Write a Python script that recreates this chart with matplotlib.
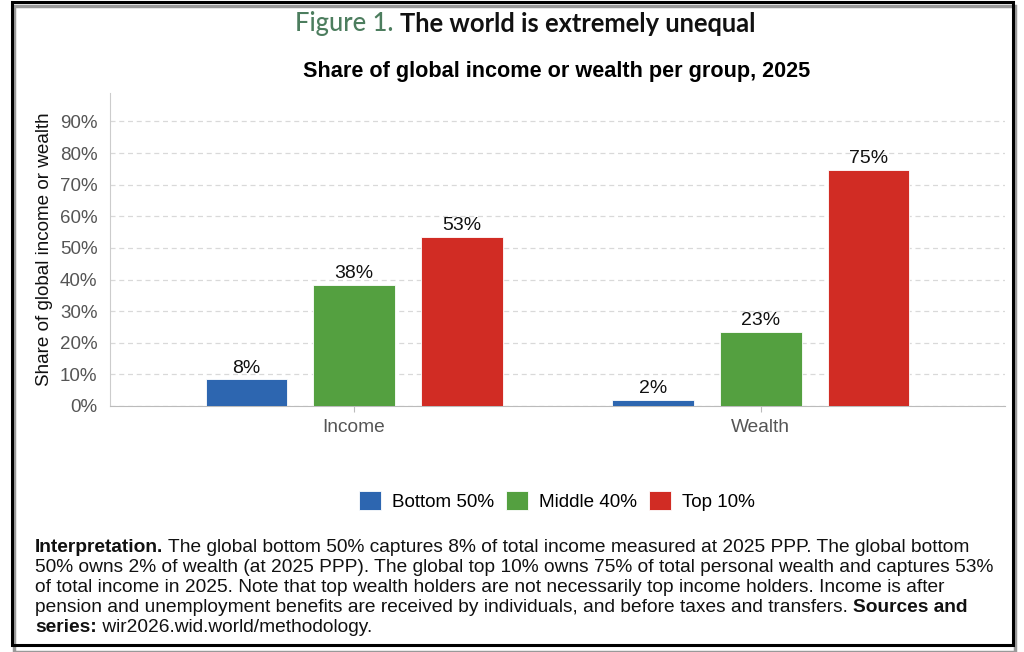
import numpy as np
import matplotlib
matplotlib.use("Agg")
import matplotlib.pyplot as plt
from matplotlib.patches import Rectangle

plt.rcParams['font.family'] = ['Liberation Sans', 'DejaVu Sans']

# data
groups = ["Income", "Wealth"]
series_names = ["Bottom 50%", "Middle 40%", "Top 10%"]
bottom50 = [8.4, 1.9]
middle40 = [38.3, 23.4]
top10 = [53.4, 74.7]
colors = ["#2D66B0", "#54A040", "#D12C24"]
yticks = [0, 10, 20, 30, 40, 50, 60, 70, 80, 90]

# note: list of (text, bold) segments per line
note_lines = [
    [("Interpretation.", True), (" The global bottom 50% captures 8% of total income measured at 2025 PPP. The global bottom", False)],
    [("50% owns 2% of wealth (at 2025 PPP). The global top 10% owns 75% of total personal wealth and captures 53%", False)],
    [("of total income in 2025. Note that top wealth holders are not necessarily top income holders. Income is after", False)],
    [("pension and unemployment benefits are received by individuals, and before taxes and transfers. ", False), ("Sources and", True)],
    [("series:", True), (" wir2026.wid.world/methodology.", False)],
]

W, H = 1024, 652
fig = plt.figure(figsize=(W / 100, H / 100), dpi=100)
ax = fig.add_axes([110 / W, 1 - 406 / H, (1005 - 110) / W, (406 - 93) / H])

x = np.arange(len(groups))
width = 0.2
offset = 0.265
for i, (vals, name, c) in enumerate(zip([bottom50, middle40, top10], series_names, colors)):
    bars = ax.bar(x + (i - 1) * offset, vals, width, color=c, label=name,
                  edgecolor="white", linewidth=0.6, zorder=3)
    ax.bar_label(bars, labels=[f"{v:.0f}%" for v in vals], padding=2,
                 fontsize=14, color="#111111")

ax.set_xlim(-0.6, 1.6)
ax.set_ylim(0, 99)
ax.set_yticks(yticks)
ax.set_yticklabels([f"{t}%" for t in yticks])
ax.set_xticks(x)
ax.set_xticklabels(groups)
ax.tick_params(axis="y", length=0, labelsize=13.5, labelcolor="#555555", pad=9)
ax.tick_params(axis="x", length=4, color="#bbbbbb", labelsize=13.8, labelcolor="#555555", pad=5)
ax.grid(axis="y", color="#d9d9d9", linestyle=(0, (4, 3)), linewidth=0.9, zorder=0)
for s in ["top", "right"]:
    ax.spines[s].set_visible(False)
ax.spines["left"].set_color("#cccccc")
ax.spines["bottom"].set_color("#bbbbbb")
ax.set_ylabel("Share of global income or wealth", fontsize=13.6, color="#111111", labelpad=5)

# titles
fig.text(295 / W, 1 - 24 / H, "Figure 1.", fontsize=18.4, family="Lato", fontweight="medium",
         color="#4C7D5E", ha="left", va="center")
fig.text(400 / W, 1 - 24 / H, "The world is extremely unequal", fontsize=18.4, family="Lato",
         fontweight="bold", color="#111111", ha="left", va="center")
fig.text(557 / W, 1 - 72 / H, "Share of global income or wealth per group, 2025",
         fontsize=15.6, fontweight="bold", ha="center", va="center")

# legend
handles, labels = ax.get_legend_handles_labels()
fig.legend(handles, labels, loc="center", bbox_to_anchor=(557 / W, 1 - 501 / H), ncol=3,
           frameon=False, fontsize=13.6, handlelength=1.16, handleheight=1.16,
           handletextpad=0.58, columnspacing=0.63, borderpad=0)

# note, drawn piece by piece so bold and normal runs sit side by side
renderer = fig.canvas.get_renderer()
for k, segs in enumerate(note_lines):
    xpos = 35 / W
    for txt, bold in segs:
        t = fig.text(xpos, 1 - (548 + k * 20) / H, txt, fontsize=13.8, ha="left", va="center",
                     color="#111111", fontweight="bold" if bold else "normal")
        bb = t.get_window_extent(renderer)
        xpos = bb.x1 / W

# frame with shadow
fig.patches.append(Rectangle((14 / W, 0), 1001 / W, (H - 6) / H, transform=fig.transFigure,
                             fill=False, edgecolor="#999999", linewidth=2.5))
fig.patches.append(Rectangle((12 / W, 1 - 645 / H), 1001 / W, 643 / H, transform=fig.transFigure,
                             fill=False, edgecolor="black", linewidth=2.2))

fig.savefig("out.png", dpi=100)
